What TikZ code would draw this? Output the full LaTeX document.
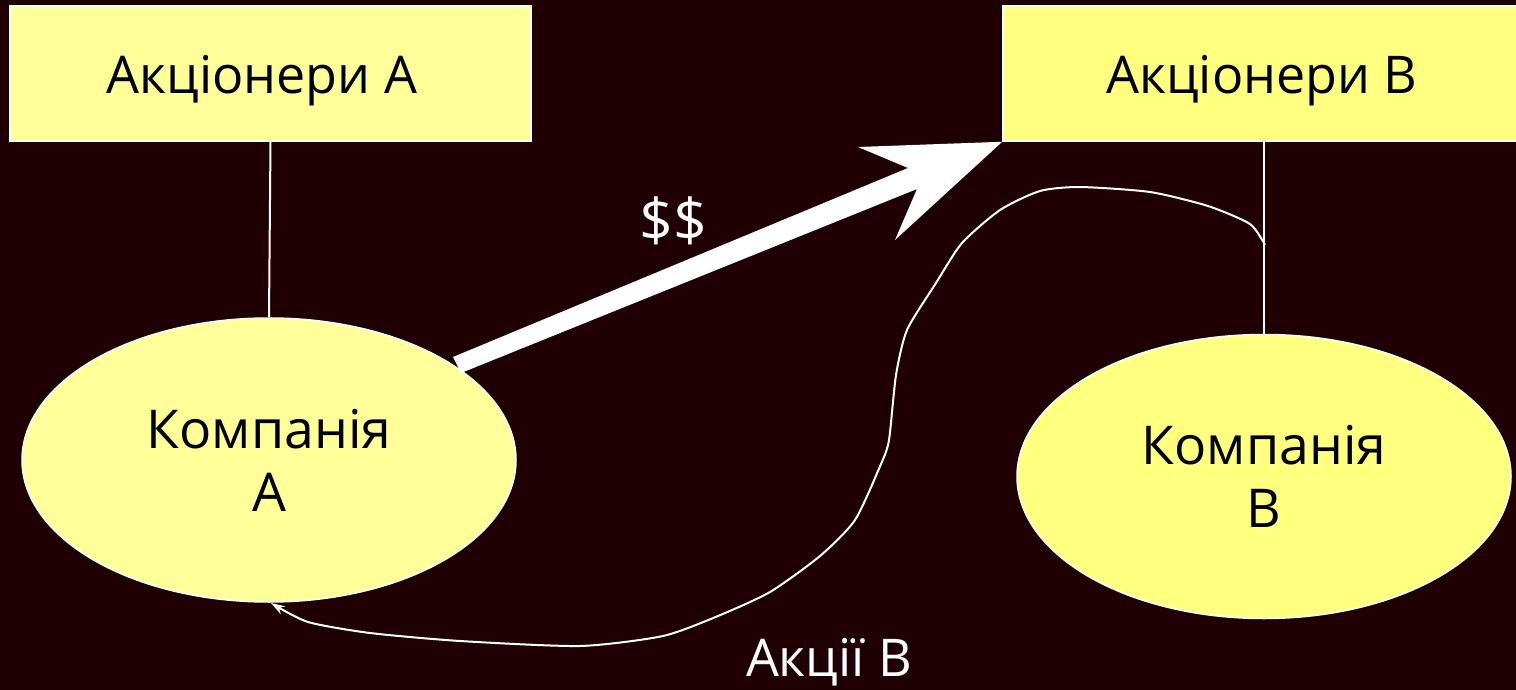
\documentclass[tikz,border=0pt]{standalone}
\usepackage{fontspec}
\setmainfont{Open Sans}
\usetikzlibrary{shapes.geometric,arrows.meta}
\definecolor{bg}{RGB}{30,0,5}
\definecolor{ylA}{HTML}{FFFF99}
\definecolor{ylB}{HTML}{FFFF80}
\begin{document}
\begin{tikzpicture}[x=1pt,y=-1pt,
  holder/.style={draw=white,line width=1.5pt,rectangle,inner sep=0pt,font=\fontsize{52}{63}\selectfont,text=black},
  company/.style={draw=white,line width=1.5pt,ellipse,inner sep=0pt,minimum width=494pt,minimum height=284pt,align=center,font=\fontsize{53.5}{63}\selectfont,text=black},
  link/.style={draw=white,line width=2pt},
  lbl/.style={text=white,font=\fontsize{52}{60}\selectfont,inner sep=0pt}]
\fill[bg] (0,0) rectangle (1516,690);
\useasboundingbox (0,0) rectangle (1516,690);
\node[holder,fill=ylA,minimum width=521pt,minimum height=135pt] (sa) at (270.5,73.5) {\raisebox{-20pt}[0pt][0pt]{Акціонери А}\hspace*{17pt}};
\node[holder,fill=ylB,minimum width=518pt,minimum height=135pt] (sb) at (1262,73.5) {\raisebox{-20pt}[0pt][0pt]{Акціонери В}};
\node[company,fill=ylA] (ca) at (269,460) {Компанія\\А};
\node[company,fill=ylB] (cb) at (1264,476.5) {Компанія\\В};
\draw[link] (sa.south) -- (ca.north);
\draw[link] (sb.south -| cb.north) -- (cb.north);
% big money arrow
\coordinate (tip) at (sb.south west);
\fill[white] (tip) -- (858,147) -- (908,168) -- (453,357) -- (461,373) -- (917,189) -- (895,240) -- cycle;
\node[lbl,font=\fontsize{59}{60}\selectfont] (money) at (673,221) {\$\$};
% shares curve
\coordinate (cstart) at (1265,245);
\draw[white,line width=2pt,-{Stealth[length=14pt,width=9pt]}] plot[smooth,tension=0.4] coordinates {(cstart) (1250,224) (1208,206) (1150,192) (1080,187) (1040,191) (1000,210) (962,243) (936,283) (907,330) (896,375) (889,440) (881,464) (855,520) (820,556) (770,592) (718,616) (663,636) (580,646) (460,641) (370,633) (308,622) (271,603)};
\node[lbl] (shares) at (829,662) {Акції В};
\end{tikzpicture}
\end{document}
